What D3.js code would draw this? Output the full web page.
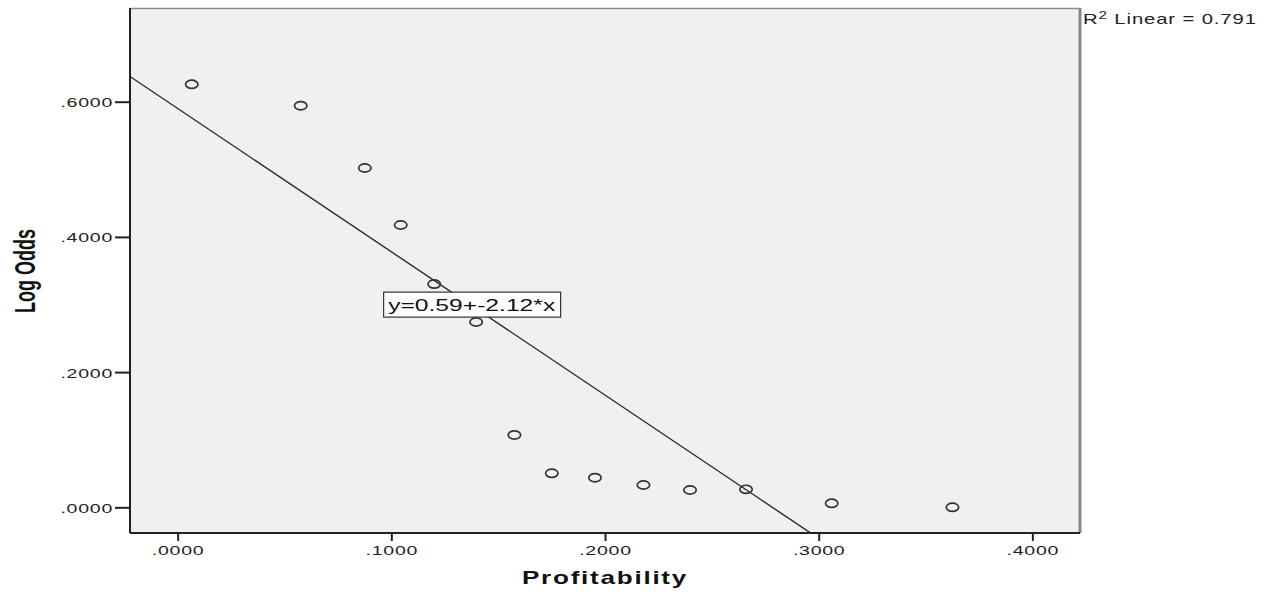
<!DOCTYPE html>
<html>
<head>
<meta charset="utf-8">
<script src="https://cdn.jsdelivr.net/npm/d3@7"></script>
<style>
  html, body { margin: 0; padding: 0; background: #fff; }
  svg { display: block; }
</style>
</head>
<body>
<svg id="chart" width="1272" height="597"></svg>
<script>
// Observed cases: profitability vs. log odds
const profitability = [0.0066, 0.0576, 0.0876, 0.1044, 0.1201, 0.1397, 0.1576,
                       0.1751, 0.1953, 0.2180, 0.2398, 0.2660, 0.3061, 0.3626];
const logOdds       = [0.6257, 0.5941, 0.5019, 0.4176, 0.3303, 0.2741, 0.1070,
                       0.0503, 0.0438, 0.0330, 0.0256, 0.0266, 0.0059, 0.0000];

// Linear fit: y = intercept + slope * x
const intercept = 0.59;
const slope = -2.12;
const rSquared = 0.791;

const xTicks = [0, 0.1, 0.2, 0.3, 0.4];
const yTicks = [0, 0.2, 0.4, 0.6];

const W = 1272, H = 597;
const margin = { top: 8, right: 192, bottom: 64, left: 130 };
const iw = W - margin.left - margin.right;
const ih = H - margin.top - margin.bottom;

// Text in this chart is drawn wide
const SX = 1.45;
const FONT = "Liberation Sans, Arial, sans-serif";

const x = d3.scaleLinear().domain([-0.0223, 0.4223]).range([0, iw]);
const y = d3.scaleLinear().domain([-0.038, 0.7386]).range([ih, 0]);

const fmt = d => d3.format(".4f")(d).replace(/^0/, "");

const svg = d3.select("#chart");
const g = svg.append("g").attr("transform", `translate(${margin.left},${margin.top})`);

// Plot background
g.append("rect").attr("width", iw).attr("height", ih).attr("fill", "#f0f0f0");

// Frame: light top/right edges
g.append("line").attr("x1", 0).attr("x2", iw).attr("y1", 0.5).attr("y2", 0.5)
  .attr("stroke", "#8a8a8a").attr("stroke-width", 1.5);
g.append("line").attr("x1", iw).attr("x2", iw).attr("y1", 0).attr("y2", ih)
  .attr("stroke", "#888").attr("stroke-width", 3);

svg.append("defs").append("clipPath").attr("id", "plotClip")
  .append("rect").attr("width", iw).attr("height", ih);

// Fit line
const fitX = x.domain();
g.append("line")
  .attr("clip-path", "url(#plotClip)")
  .attr("x1", x(fitX[0])).attr("y1", y(intercept + slope * fitX[0]))
  .attr("x2", x(fitX[1])).attr("y2", y(intercept + slope * fitX[1]))
  .attr("stroke", "#2b2b2b").attr("stroke-width", 1.4);

// Points
g.selectAll("ellipse.pt")
  .data(profitability.map((p, i) => [p, logOdds[i]]))
  .join("ellipse")
  .attr("class", "pt")
  .attr("cx", d => x(d[0])).attr("cy", d => y(d[1]))
  .attr("rx", 6.2).attr("ry", 4.1)
  .attr("fill", "none").attr("stroke", "#333").attr("stroke-width", 1.7);

// Equation label
const eqX = 0.0964, eqY = 0.2954;
const eq = g.append("g").attr("transform", `translate(${x(eqX)},${y(eqY)})`);
eq.append("rect").attr("x", 0).attr("y", -15.5).attr("width", 177).attr("height", 25)
  .attr("fill", "#fff").attr("stroke", "#333").attr("stroke-width", 1.2);
eq.append("text")
  .attr("transform", `translate(4.5,3.4) scale(${SX},1)`)
  .attr("font-family", FONT).attr("font-size", 17)
  .attr("fill", "#111")
  .text(`y=${intercept}+${slope}*x`);

// Axes
const xAxis = d3.axisBottom(x).tickValues(xTicks).tickFormat(fmt).tickSize(8);
const yAxis = d3.axisLeft(y).tickValues(yTicks).tickFormat(fmt).tickSize(15);

const gx = g.append("g").attr("transform", `translate(0,${ih})`).call(xAxis);
const gy = g.append("g").call(yAxis);

[gx, gy].forEach(a => {
  a.select(".domain").attr("stroke", "#222").attr("stroke-width", 2);
  a.selectAll(".tick line").attr("stroke", "#222").attr("stroke-width", 2);
  a.selectAll(".tick text")
    .attr("font-family", FONT)
    .attr("font-size", 13.5).attr("fill", "#222").attr("letter-spacing", 0.5)
    .attr("x", 0).attr("y", 0).attr("dy", null);
});
gx.select(".domain").attr("d", `M0,0H${iw}`);
gy.select(".domain").attr("d", `M0,0V${ih}`);
gx.selectAll(".tick text").attr("transform", `translate(0,22) scale(${SX},1)`);
gy.selectAll(".tick text").attr("transform", `translate(-17,5) scale(${SX},1)`);

// Axis titles
svg.append("text")
  .attr("transform", `translate(${margin.left + x(0.2)},584) scale(${SX},1)`)
  .attr("text-anchor", "middle")
  .attr("font-family", FONT)
  .attr("font-weight", "bold").attr("font-size", 18).attr("letter-spacing", 1.2)
  .attr("fill", "#111")
  .text("Profitability");

svg.append("text")
  .attr("transform", `translate(35,271) scale(1.6,1) rotate(-90)`)
  .attr("text-anchor", "middle")
  .attr("font-family", FONT)
  .attr("font-weight", "bold").attr("font-size", 18)
  .attr("fill", "#111")
  .text("Log Odds");

// Fit statistic
const r2 = svg.append("text")
  .attr("transform", `translate(${margin.left + iw + 3},23.5) scale(${SX},1)`)
  .attr("font-family", FONT)
  .attr("font-size", 14).attr("fill", "#222").attr("letter-spacing", 0.6);
r2.append("tspan").text("R");
r2.append("tspan").attr("dy", -5).attr("font-size", 10.5).text("2");
r2.append("tspan").attr("dy", 5).text(` Linear = ${rSquared}`);
</script>
</body>
</html>
